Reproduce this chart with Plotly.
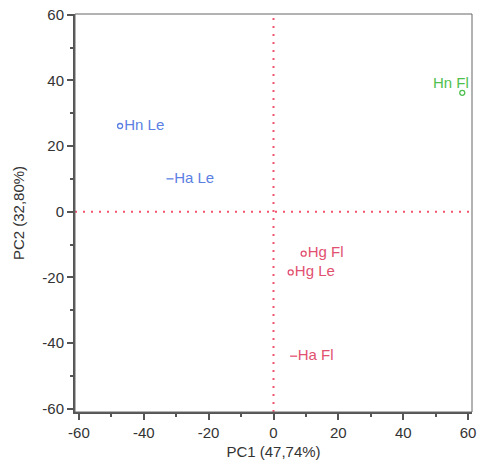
import plotly.graph_objects as go

labels = ["Hn Le", "Ha Le", "Hg Fl", "Hg Le", "Ha Fl", "Hn Fl"]
pc1 = [-47.3, -31.9, 9.3, 5.3, 6.2, 58.2]
pc2 = [26.1, 10.0, -12.8, -18.5, -44.0, 36.2]
groups = ["Le", "Le", "Hg", "Hg", "Hg", "Fl"]
colors = {"Le": "#5b7fe3", "Hg": "#e2506f", "Fl": "#4fbf4f"}
symbols = ["circle-open", "line-ew-open", "circle-open", "circle-open", "line-ew-open", "circle-open"]

x_ticks = [-60, -40, -20, 0, 20, 40, 60]
y_ticks = [-60, -40, -20, 0, 20, 40, 60]

FONT = "Liberation Sans, Arial"

fig = go.Figure()
for i, lab in enumerate(labels):
    c = colors[groups[i]]
    inline = lab != "Hn Fl"
    fig.add_trace(go.Scatter(
        x=[pc1[i]], y=[pc2[i]], mode="markers+text" if inline else "markers",
        text=[lab] if inline else None,
        textposition="middle right",
        textfont=dict(family=FONT, size=15, color=c),
        marker=dict(symbol=symbols[i], size=5, color=c, line=dict(color=c, width=1.3)),
        showlegend=False, cliponaxis=False, hoverinfo="skip"))
    if not inline:
        fig.add_annotation(x=pc1[i], y=pc2[i], text=lab, showarrow=False,
                           xanchor="center", yanchor="middle", xshift=-11, yshift=10,
                           font=dict(family=FONT, size=15, color=c))

fig.add_shape(type="line", x0=0, x1=0, y0=0, y1=1, xref="x", yref="paper",
              line=dict(color="#f2546c", width=2, dash="2px,6px"))
fig.add_shape(type="line", x0=0, x1=1, y0=0, y1=0, xref="paper", yref="y",
              line=dict(color="#f2546c", width=2, dash="2px,6px"))
fig.add_shape(type="rect", x0=0, x1=1, y0=0, y1=1, xref="paper", yref="paper",
              line=dict(color="#666666", width=1))

axis_common = dict(
    automargin=False,
    showgrid=False, zeroline=False, showline=True, linecolor="#555555", linewidth=2,
    ticks="outside", ticklen=6, tickwidth=1.5, tickcolor="#555555",
    tickfont=dict(family=FONT, size=15, color="#333333"),
    minor=dict(ticks="outside", ticklen=3, tickwidth=1.5, tickcolor="#555555", dtick=10, showgrid=False),
)

fig.update_xaxes(range=[-61.2, 61.2], tickvals=x_ticks, ticktext=[str(v) for v in x_ticks],
                 title=dict(text="PC1 (47,74%)", font=dict(family=FONT, size=15, color="#333333"), standoff=6),
                 **axis_common)
fig.update_yaxes(range=[-61, 60.2], tickvals=y_ticks, ticktext=[str(v) for v in y_ticks],
                 title=dict(text="PC2 (32,80%)", font=dict(family=FONT, size=15, color="#333333"), standoff=14),
                 **axis_common)

fig.update_layout(width=478, height=462, margin=dict(l=75, r=6, t=14, b=50),
                  plot_bgcolor="white", paper_bgcolor="white", hovermode=False)

fig.write_html("out.html", config={"displayModeBar": False},
               post_script="document.body.style.margin='0';document.body.style.overflow='hidden';")
